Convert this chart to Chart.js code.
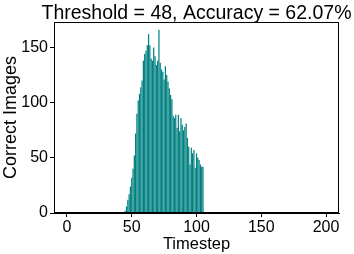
<!DOCTYPE html>
<html lang="en">
  <head>
    <meta charset="UTF-8" />
    <title>Threshold histogram</title>
    <style>
      html, body { margin: 0; padding: 0; background: #fff; }
      #wrap { width: 354px; height: 254px; }
    </style>
    <script src="https://cdn.jsdelivr.net/npm/chart.js"></script>
  </head>
  <body>
    <div id="wrap"><canvas id="histChart"></canvas></div>
    <script>
      // timesteps 45..105 and how many images were correct at each one
      const firstStep = 45;
      const correctImages = [
        2, 6, 12, 17, 24, 32, 40, 52, 72, 90,
        102, 108, 114, 120, 138, 144, 147, 152, 162, 152,
        140, 138, 150, 142, 134, 138, 166, 136, 130, 128,
        121, 133, 125, 119, 113, 107, 103, 88, 86, 89,
        77, 89, 74, 86, 80, 75, 78, 81, 68, 60,
        44, 59, 54, 57, 41, 54, 50, 48, 44, 42, 42
      ];
      const xTicks = [0, 50, 100, 150, 200];
      const yTicks = [0, 50, 100, 150];
      const titleText = "Threshold = 48, Accuracy = 62.07%";

      const points = correctImages.map((v, i) => ({ x: firstStep + i, y: v }));
      const font = "'Liberation Sans', Arial, sans-serif";

      // box round the plot, and the title centred over the plot area
      const frame = {
        id: "frame",
        afterDatasetsDraw(chart) {
          const { ctx, chartArea: a } = chart;
          ctx.save();
          ctx.strokeStyle = "#000";
          ctx.lineWidth = 1;
          ctx.strokeRect(Math.round(a.left) + 0.5, Math.round(a.top) + 0.5,
            Math.round(a.right - a.left) - 1, Math.round(a.bottom - a.top) - 1);
          ctx.restore();
        },
        afterDraw(chart) {
          const { ctx, chartArea: a } = chart;
          ctx.save();
          ctx.fillStyle = "#000";
          ctx.font = "19.5px " + font;
          ctx.textAlign = "center";
          ctx.textBaseline = "alphabetic";
          ctx.fillText(titleText, (a.left + a.right) / 2, 18.5);
          ctx.restore();
        }
      };

      new Chart(document.getElementById("histChart"), {
        type: "bar",
        data: {
          datasets: [{
            data: points,
            backgroundColor: "#008080",
            borderWidth: 0,
            barPercentage: 0.95,
            categoryPercentage: 1.0
          }]
        },
        options: {
          responsive: true,
          maintainAspectRatio: false,
          animation: false,
          layout: { padding: { left: 0, right: 15, top: 22, bottom: 0 } },
          plugins: {
            legend: { display: false },
            tooltip: { enabled: false },
            title: { display: false }
          },
          scales: {
            x: {
              type: "linear",
              offset: false,
              min: -10,
              max: 210,
              afterBuildTicks: s => { s.ticks = xTicks.map(v => ({ value: v })); },
              afterFit: s => { s.height = 41; },
              grid: { drawOnChartArea: false, offset: false, color: "#000", tickLength: 4 },
              border: { color: "#000" },
              ticks: { color: "#000", font: { family: font, size: 16 }, padding: 1, maxRotation: 0 },
              title: { display: true, text: "Timestep", color: "#000", font: { family: font, size: 16.5 }, padding: 0 }
            },
            y: {
              min: 0,
              max: 173,
              afterBuildTicks: s => { s.ticks = yTicks.map(v => ({ value: v })); },
              afterFit: s => { s.width = 54; },
              grid: { drawOnChartArea: false, color: "#000", tickLength: 4 },
              border: { color: "#000" },
              ticks: { color: "#000", font: { family: font, size: 16 }, padding: 2 },
              title: { display: true, text: "Correct Images", color: "#000", font: { family: font, size: 18 }, padding: 0 }
            }
          }
        },
        plugins: [frame]
      });
    </script>
  </body>
</html>
